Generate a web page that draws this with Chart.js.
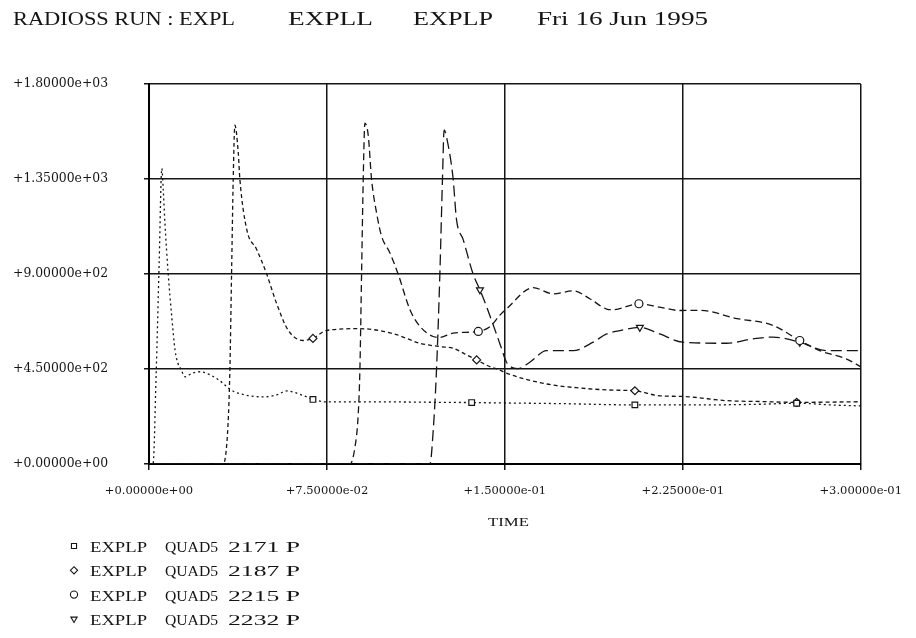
<!DOCTYPE html>
<html>
<head>
<meta charset="utf-8">
<script src="https://cdn.jsdelivr.net/npm/chart.js@4.4.1/dist/chart.umd.min.js"></script>
<style>
  html, body { margin: 0; padding: 0; background: #fff; }
  canvas { display: block; }
</style>
</head>
<body>
<canvas id="plot" width="916" height="638"></canvas>
<script>
// ── Data: time (s) and value for each element, marker times ─────────────────
const t2171 = [0, 0.0017, 0.0030, 0.0043, 0.0054, 0.0060, 0.0067, 0.0081, 0.0096, 0.0110, 0.0123, 0.0134, 0.0152, 0.0180, 0.0215, 0.0250, 0.0299, 0.0341, 0.0383, 0.0482, 0.0538, 0.0580, 0.0649, 0.0691, 0.0749, 0.1028, 0.1226, 0.1360, 0.1507, 0.1732, 0.2048, 0.2322, 0.2574, 0.2730, 0.2870, 0.3];
const v2171 = [0, 0, 420, 960, 1400, 1300, 1143, 900, 697, 538, 474, 450, 413, 429, 437, 426, 394, 354, 333, 318, 327, 346, 325, 306, 294, 294, 292, 291, 289, 286, 280, 280, 283, 288, 280, 275];
const m2171 = [0.0691, 0.1360, 0.2048, 0.2730];

const t2187 = [0, 0.0313, 0.0333, 0.0341, 0.0348, 0.0355, 0.0362, 0.0376, 0.0383, 0.0412, 0.0454, 0.0496, 0.0538, 0.0587, 0.0650, 0.0691, 0.0749, 0.0889, 0.1028, 0.1142, 0.1226, 0.1282, 0.1339, 0.1381, 0.1437, 0.1479, 0.1507, 0.1676, 0.1816, 0.1956, 0.2048, 0.2153, 0.2250, 0.2435, 0.2574, 0.2730, 0.3];
const v2187 = [0, 0, 186, 450, 900, 1350, 1605, 1478, 1350, 1111, 1016, 900, 760, 633, 585, 595, 633, 641, 618, 572, 556, 548, 517, 493, 461, 445, 430, 379, 360, 350, 347, 323, 320, 300, 296, 292, 295];
const m2187 = [0.0691, 0.1381, 0.2048, 0.2730];

const t2215 = [0, 0.0847, 0.0868, 0.0882, 0.0889, 0.0896, 0.0903, 0.0910, 0.0924, 0.0938, 0.0959, 0.0980, 0.1015, 0.1050, 0.1100, 0.1142, 0.1198, 0.1226, 0.1282, 0.1388, 0.1437, 0.1479, 0.1507, 0.1619, 0.1704, 0.1788, 0.1858, 0.1929, 0.1956, 0.2065, 0.2153, 0.2237, 0.2322, 0.2478, 0.2629, 0.2743, 0.2827, 0.2941, 0.3];
const v2215 = [0, 0, 79, 238, 450, 900, 1350, 1615, 1558, 1350, 1191, 1080, 1001, 900, 731, 652, 604, 600, 620, 628, 650, 705, 735, 835, 806, 820, 783, 734, 731, 759, 743, 727, 728, 689, 657, 585, 537, 497, 460];
const m2215 = [0.1388, 0.2065, 0.2743];

const t2232 = [0, 0.1184, 0.1198, 0.1212, 0.1226, 0.1237, 0.1244, 0.1261, 0.1282, 0.1296, 0.1324, 0.1366, 0.1395, 0.1423, 0.1479, 0.1507, 0.1535, 0.1556, 0.1605, 0.1676, 0.1788, 0.1872, 0.1929, 0.1985, 0.2069, 0.2153, 0.2250, 0.2435, 0.2545, 0.2629, 0.2743, 0.2857, 0.3];
const v2232 = [0, 0, 159, 450, 900, 1350, 1582, 1510, 1350, 1159, 1064, 900, 825, 745, 570, 482, 455, 452, 482, 537, 537, 577, 616, 632, 647, 616, 577, 572, 593, 601, 577, 537, 537];
const m2232 = [0.1395, 0.2069, 0.2743];

const ids     = ['2171', '2187', '2215', '2232'];
const xTicks  = [0, 0.075, 0.15, 0.225, 0.3];
const yTicks  = [0, 450, 900, 1350, 1800];
const titleParts = ['RADIOSS RUN : EXPL', 'EXPLL', 'EXPLP', 'Fri 16 Jun 1995'];
const xTitle  = 'TIME';

// ── Helpers ─────────────────────────────────────────────────────────────────
const INK = '#151515';

// +1.80000e+03 style, as printed by the plotting program
const sci = v => {
  const s = Math.abs(v).toExponential(5);
  const [m, e] = s.split('e');
  const sign = e[0], d = e.slice(1).padStart(2, '0');
  return (v < 0 ? '-' : '+') + m + 'e' + sign + d;
};

const pts = (t, v) => t.map((x, i) => ({ x, y: v[i] }));

// draw a string squeezed/stretched horizontally between x0 and x1
function fitText(ctx, str, x0, x1, y) {
  const w = ctx.measureText(str).width;
  ctx.save();
  ctx.translate(x0, y);
  ctx.scale((x1 - x0) / w, 1);
  ctx.fillText(str, 0, 0);
  ctx.restore();
}

const series = [
  { t: t2171, v: v2171, m: m2171, dash: [2, 3],  style: 'rect',    rot: 0 },
  { t: t2187, v: v2187, m: m2187, dash: [4, 3],  style: 'rectRot', rot: 0 },
  { t: t2215, v: v2215, m: m2215, dash: [7, 4],  style: 'circle',  rot: 0 },
  { t: t2232, v: v2232, m: m2232, dash: [11, 5], style: 'triangle', rot: 180 }
];

const datasets = series.map((s, k) => ({
  label: ids[k],
  data: pts(s.t, s.v),
  borderColor: INK,
  borderWidth: 1.3,
  borderDash: s.dash,
  cubicInterpolationMode: 'monotone',
  pointStyle: s.style,
  pointRotation: s.rot,
  pointRadius: c => (c.raw && s.m.includes(c.raw.x)) ? 4 : 0,
  pointBorderWidth: 1.2,
  pointBorderColor: INK,
  pointBackgroundColor: '#fff',
  fill: false
}));

// ── Title, axis title and legend drawn on the canvas ───────────────────────
const decor = {
  id: 'decor',
  afterDraw(chart) {
    const ctx = chart.ctx;
    ctx.save();
    ctx.fillStyle = INK;
    ctx.textBaseline = 'alphabetic';

    ctx.font = '18px "Liberation Serif"';
    const tx = [[13, 235], [288, 373], [413, 493], [537, 708]];
    titleParts.forEach((p, i) => fitText(ctx, p, tx[i][0], tx[i][1], 25));

    ctx.font = '13px "Liberation Serif"';
    fitText(ctx, xTitle, 488, 529, 526);

    ctx.font = '14px "Liberation Serif"';
    ids.forEach((id, i) => {
      const y = 552 + i * 24.3;
      ctx.save();
      ctx.lineWidth = 1.1;
      ctx.strokeStyle = INK;
      ctx.fillStyle = '#fff';
      Chart.helpers.drawPoint(ctx, {
        pointStyle: series[i].style, rotation: series[i].rot,
        radius: 3.6, borderWidth: 1.1
      }, 74, y - 6);
      ctx.restore();
      fitText(ctx, 'EXPLP', 90, 147, y);
      fitText(ctx, 'QUAD5', 165, 218, y);
      fitText(ctx, id + ' P', 228, 300, y);
    });
    ctx.restore();
  }
};

const bg = {
  id: 'bg',
  beforeDraw(chart) {
    const ctx = chart.ctx;
    ctx.save();
    ctx.fillStyle = '#fff';
    ctx.fillRect(0, 0, chart.width, chart.height);
    ctx.restore();
  }
};

new Chart(document.getElementById('plot'), {
  type: 'line',
  data: { datasets },
  plugins: [bg, decor],
  options: {
    responsive: false,
    animation: false,
    devicePixelRatio: 1,
    layout: { padding: { left: 13, top: 84, right: 55, bottom: 114 } },
    plugins: { legend: { display: false }, tooltip: { enabled: false }, title: { display: false } },
    scales: {
      x: {
        type: 'linear', min: 0, max: 0.3,
        afterBuildTicks: s => { s.ticks = xTicks.map(value => ({ value })); },
        afterFit: s => { s.height = 60; },
        grid: { color: INK, lineWidth: 1.5, tickLength: 6, drawTicks: true },
        border: { display: true, color: '#000', width: 2 },
        ticks: {
          color: INK, padding: 14, maxRotation: 0, autoSkip: false,
          font: { family: 'DejaVu Serif', size: 11.5 },
          callback: v => sci(v)
        }
      },
      y: {
        type: 'linear', min: 0, max: 1800,
        afterBuildTicks: s => { s.ticks = yTicks.map(value => ({ value })); },
        afterFit: s => { s.width = 136; },
        grid: { color: INK, lineWidth: 1.5, tickLength: 5, drawTicks: true },
        border: { display: true, color: '#000', width: 2 },
        ticks: {
          color: INK, crossAlign: 'far', autoSkip: false,
          font: { family: 'DejaVu Serif', size: 12.4 },
          callback: v => sci(v)
        }
      }
    }
  }
});
</script>
</body>
</html>
